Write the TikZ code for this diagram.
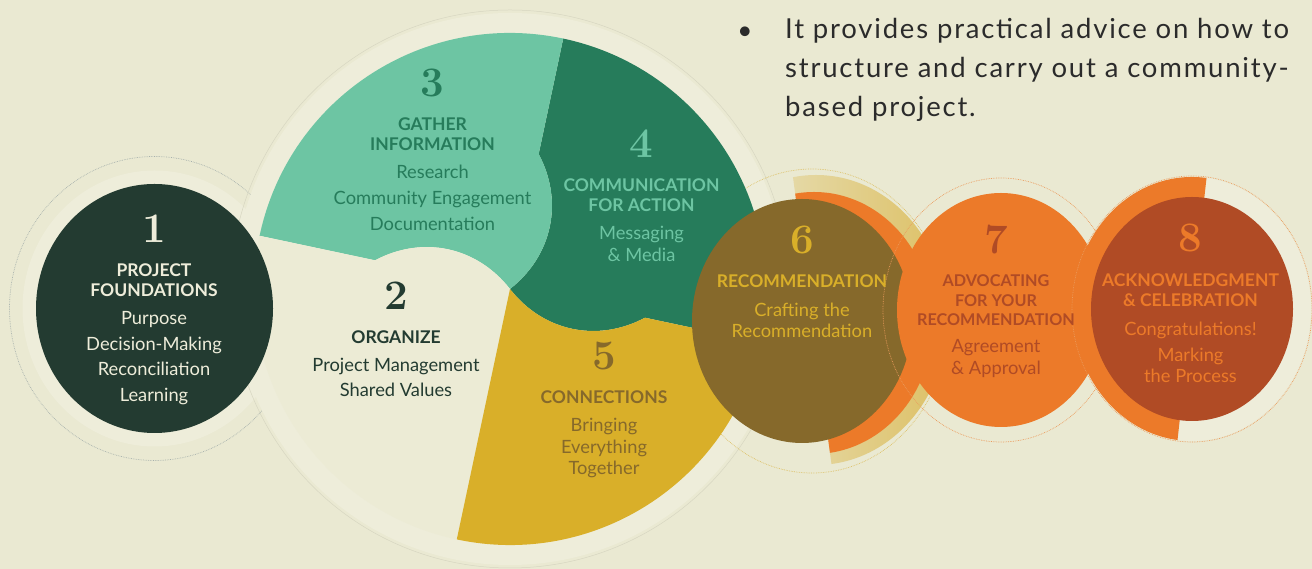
\documentclass[tikz,border=0pt]{standalone}
\usepackage{fontspec}
\setsansfont{Lato}
\newfontfamily\blurbfont[LetterSpace=6.5]{Lato}
\usepackage{tikz}
\usetikzlibrary{positioning}
\definecolor{paper}{HTML}{EAE9D2}
\definecolor{paperlt}{HTML}{EEEDDA}
\definecolor{cream}{HTML}{ECEBD5}
\definecolor{pine}{HTML}{233B31}
\definecolor{mint}{HTML}{6DC5A3}
\definecolor{forest}{HTML}{267C5B}
\definecolor{mustard}{HTML}{D9AF29}
\definecolor{bronze}{HTML}{86692B}
\definecolor{tangerine}{HTML}{EC7A29}
\definecolor{rust}{HTML}{B04B25}
\definecolor{goldring}{HTML}{DDC064}
\definecolor{ink}{HTML}{2B2B2B}

\begin{document}
\begin{tikzpicture}[
  x=1pt, y=1pt,
  numlabel/.style={font=\fontsize{42}{42}\selectfont\bfseries, inner sep=0pt, anchor=north},
  headlabel/.style={font=\sffamily\bfseries\fontsize{17.5}{20}\selectfont, align=center, inner sep=0pt},
  sublabel/.style={font=\sffamily\fontsize{18.3}{21.5}\selectfont, align=center, inner sep=0pt},
  dotring/.style={line width=0.7pt, densely dotted}
]
  \useasboundingbox (0,0) rectangle (1312,569);
  \fill[paper] (0,0) rectangle (1312,569);

  \coordinate (c1) at (154.5,260.5);
  \coordinate (wheel) at (510,280);
  \coordinate (c6) at (802,248);
  \coordinate (c7) at (1001,259);
  \coordinate (c8) at (1192,260);

  % rings behind step 1 and the wheel
  \fill[paperlt] (c1) ellipse [x radius=132, y radius=138];
  \draw[dotring, draw=pine!40] (c1) ellipse [x radius=145, y radius=152];
  \fill[paperlt] (wheel) circle [radius=276];
  \draw[line width=0.5pt, draw=paper!92!black] (wheel) circle [radius=279];
  \draw[dotring, draw=goldring] (812,248) ellipse [x radius=136, y radius=152];

  % the wheel: steps 2 to 5
  \begin{scope}[shift={(wheel)}]
    \fill[forest] (0,0) to[bend right=40] (-12:138) -- (-12:256)
      arc[start angle=-12, end angle=78, radius=256] -- (78:138) to[bend left=40] (0,0) -- cycle;
    \fill[mint] (0,0) to[bend right=40] (78:138) -- (78:256)
      arc[start angle=78, end angle=168, radius=256] -- (168:138) to[bend left=40] (0,0) -- cycle;
    \fill[cream] (0,0) to[bend right=40] (168:138) -- (168:256)
      arc[start angle=168, end angle=258, radius=256] -- cycle;
    \fill[mustard] (0,0) -- (258:256)
      arc[start angle=258, end angle=348, radius=256] -- (348:138) to[bend left=40] (0,0) -- cycle;
  \end{scope}

  % step 1
  \fill[pine] (c1) ellipse [x radius=118.5, y radius=124.5];

  % step 6 with its half rings
  \begin{scope}
    \clip (784.5,455) -- (847.5,-14.5) -- (1000,-14.5) -- (1000,455) -- cycle;
    \shade[left color=paper, middle color=paper, right color=goldring]
      (816,249) ellipse [x radius=131, y radius=145];
    \fill[tangerine] (814,246) ellipse [x radius=119, y radius=131];
  \end{scope}
  \fill[bronze] (c6) ellipse [x radius=110, y radius=122];

  % step 7
  \draw[dotring, draw=tangerine!70!paper] (c7) ellipse [x radius=118, y radius=132];
  \fill[tangerine] (c7) ellipse [x radius=104, y radius=117];

  % step 8 with its half ring
  \fill[paperlt] (c8) -- ++(-97:119 and 132)
    arc[start angle=-97, end angle=83, x radius=119, y radius=132] -- cycle;
  \fill[tangerine] (c8) -- ++(83:119 and 132)
    arc[start angle=83, end angle=263, x radius=119, y radius=132] -- cycle;
  \draw[dotring, draw=tangerine!70!paper] (c8) ellipse [x radius=120, y radius=133];
  \fill[rust] (c8) ellipse [x radius=101, y radius=112];

  % labels
  \node[numlabel, text=paperlt] (n1) at (154,354) {1};
  \node[headlabel, text=paperlt, below=20.5pt of n1] (h1) {PROJECT\\FOUNDATIONS};
  \node[sublabel, text=paperlt, below=14.3pt of h1] (s1)
    {Purpose\\[4.3pt]Decision-Making\\[4.3pt]Reconciliation\\[4.3pt]Learning};

  \node[numlabel, text=pine] (n2) at (396,287.3) {2};
  \node[headlabel, text=pine, below=20.5pt of n2] (h2) {ORGANIZE};
  \node[sublabel, text=pine, below=14.3pt of h2] (s2)
    {Project Management\\[4pt]Shared Values};

  \node[numlabel, text=forest] (n3) at (432.5,500.7) {3};
  \node[headlabel, text=forest, below=20.5pt of n3] (h3) {GATHER\\INFORMATION};
  \node[sublabel, text=forest, below=14.3pt of h3] (s3)
    {Research\\[4.3pt]Community Engagement\\[4.3pt]Documentation};

  \node[numlabel, text=mint] (n4) at (641.5,439) {4};
  \node[headlabel, text=mint, below=20.5pt of n4] (h4) {COMMUNICATION\\FOR ACTION};
  \node[sublabel, text=mint, below=14.3pt of h4] (s4) {Messaging\\\& Media};

  \node[numlabel, text=bronze] (n5) at (604,227.3) {5};
  \node[headlabel, text=bronze, below=20.5pt of n5] (h5) {CONNECTIONS};
  \node[sublabel, text=bronze, below=14.3pt of h5] (s5) {Bringing\\Everything\\Together};

  \node[numlabel, text=mustard] (n6) at (802,343) {6};
  \node[headlabel, text=mustard, below=20.5pt of n6] (h6) {RECOMMENDATION};
  \node[sublabel, text=mustard, below=14.3pt of h6] (s6) {Crafting the\\Recommendation};

  \node[numlabel, text=rust] (n7) at (996,344) {7};
  \node[headlabel, text=rust, below=20.5pt of n7,
        font=\sffamily\bfseries\fontsize{16.2}{19.2}\selectfont] (h7)
    {ADVOCATING\\FOR YOUR\\RECOMMENDATION};
  \node[sublabel, text=rust, below=14pt of h7] (s7) {Agreement\\\& Approval};

  \node[numlabel, text=tangerine] (n8) at (1190.5,345) {8};
  \node[headlabel, text=tangerine, below=21.5pt of n8] (h8) {ACKNOWLEDGMENT\\\& CELEBRATION};
  \node[sublabel, text=tangerine, below=14.3pt of h8] (s8)
    {Congratulations!\\[4.3pt]Marking\\the Process};

  % bullet note
  \node[font=\sffamily\fontsize{26}{39}\selectfont, text=ink, inner sep=0pt] (dot) at (745,536) {\textbullet};
  \node[font=\blurbfont\fontsize{27.5}{39}\selectfont, text=ink, inner sep=0pt, align=left,
        anchor=north west] (blurb) at (785,551)
    {It provides practical advice on how to\\structure and carry out a community-\\based project.};
\end{tikzpicture}
\end{document}
